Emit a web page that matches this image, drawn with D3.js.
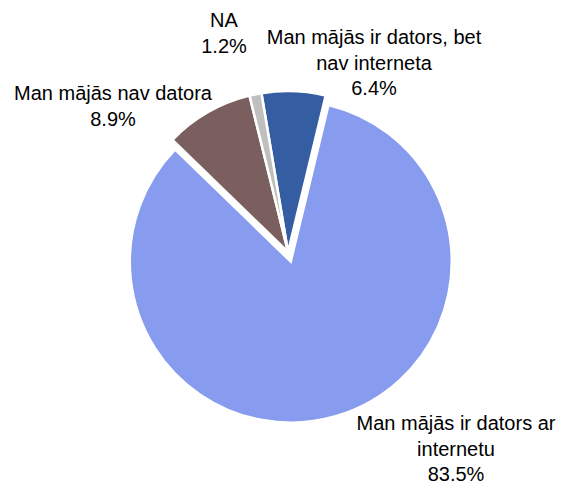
<!DOCTYPE html>
<html>
<head>
<meta charset="utf-8">
<script src="https://cdn.jsdelivr.net/npm/d3@7"></script>
<style>
  body { margin: 0; background: #fff; }
  text { font-family: "Liberation Sans", Arial, sans-serif; fill: #000; }
</style>
</head>
<body>
<div id="vis"></div>
<script>
// slice order, clockwise from about 11 o'clock
const categories = [
    "Man mājās ir dators, bet nav interneta",
    "Man mājās ir dators ar internetu",
    "Man mājās nav datora",
    "NA"
];
const values = [6.4, 83.5, 8.9, 1.2];
const colors = ["#355da1", "#879bef", "#7a5f5e", "#bfbfbf"];
const exploded = [0, 10, 0, 0];
// label lines per slice
const labelLines = [
    ["Man mājās ir dators, bet", "nav interneta", "6.4%"],
    ["Man mājās ir dators ar", "internetu", "83.5%"],
    ["Man mājās nav datora", "8.9%"],
    ["NA", "1.2%"]
];
const labelPos = [[374, 44], [456, 430], [113, 100], [224, 27]];

const W = 563, H = 486;
const cx = 288, cy = 252, R = 161;
const start = -9.5 * Math.PI / 180;

const svg = d3.select("#vis").append("svg")
    .attr("width", W)
    .attr("height", H);

const pie = d3.pie()
    .sort(null)
    .startAngle(start)
    .endAngle(2 * Math.PI + start);

const arc = d3.arc().innerRadius(0).outerRadius(R);

const arcs = pie(values);

const g = svg.append("g").attr("transform", `translate(${cx},${cy})`);

g.selectAll("path")
    .data(arcs)
    .enter()
    .append("path")
    .attr("d", arc)
    .attr("fill", (d, i) => colors[i])
    .attr("stroke", "#fff")
    .attr("stroke-width", 2.5)
    .attr("transform", (d, i) => {
        const a = (d.startAngle + d.endAngle) / 2;
        return `translate(${Math.sin(a) * exploded[i]},${-Math.cos(a) * exploded[i]})`;
    });

const labels = svg.selectAll("text.lbl")
    .data(labelLines)
    .enter()
    .append("text")
    .classed("lbl", true)
    .attr("text-anchor", "middle")
    .attr("font-size", 20)
    .attr("x", (d, i) => labelPos[i][0])
    .attr("y", (d, i) => labelPos[i][1]);

labels.each(function (lines, i) {
    const t = d3.select(this);
    lines.forEach((s, k) => {
        t.append("tspan")
            .attr("x", labelPos[i][0])
            .attr("dy", k === 0 ? 0 : 25.5)
            .text(s);
    });
});
</script>
</body>
</html>
